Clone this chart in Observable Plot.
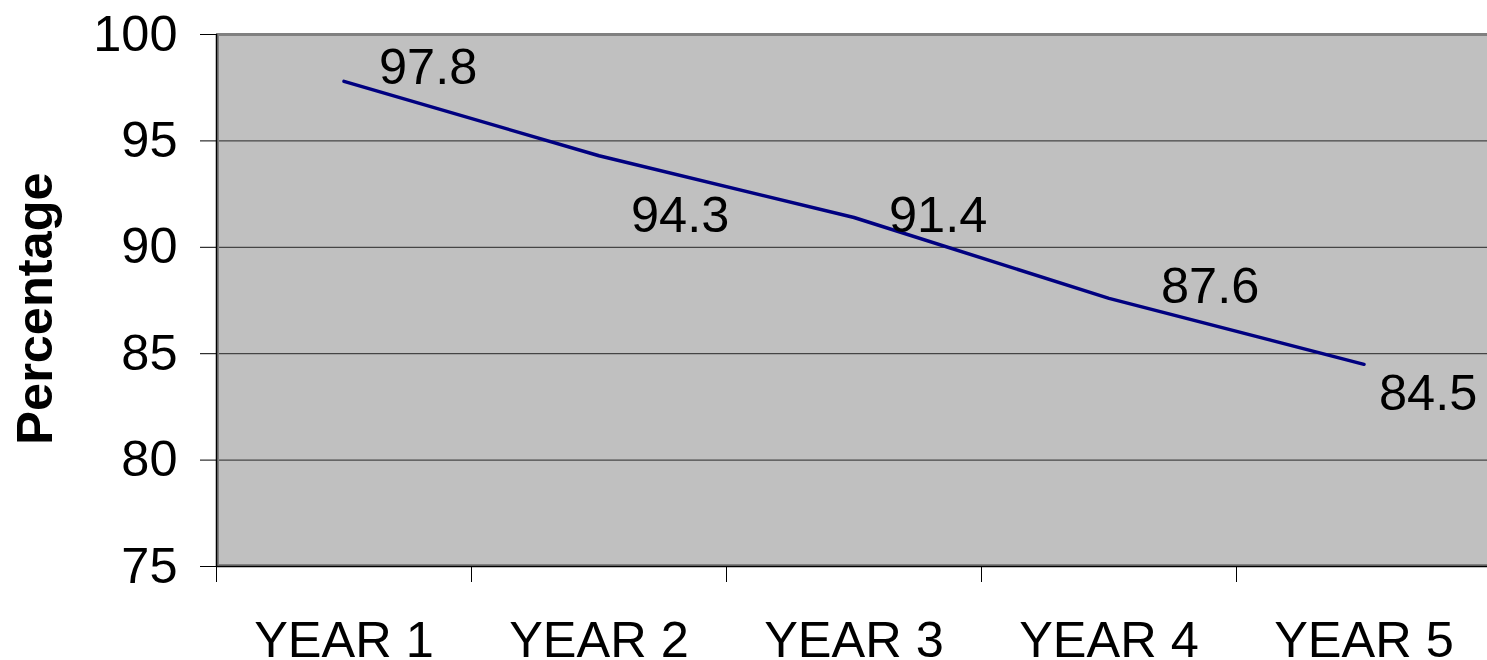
<!DOCTYPE html>
<html><head><meta charset="utf-8">
<script src="https://cdn.jsdelivr.net/npm/d3@7"></script>
<script src="https://cdn.jsdelivr.net/npm/@observablehq/plot@0.6"></script>
<style>html,body{margin:0;padding:0;background:#fff;overflow:hidden;} svg{display:block;}</style>
</head><body><div id="chart"></div>
<script>
const categories = ["YEAR 1", "YEAR 2", "YEAR 3", "YEAR 4", "YEAR 5"];
const values = [97.8, 94.3, 91.4, 87.6, 84.5];
const yTicks = [75, 80, 85, 90, 95, 100];
const yTitle = "Percentage";

const table = categories.map((c, i) => ({i, category: c, value: values[i]}));
const bandEdges = d3.range(categories.length + 1).map(k => k - 0.5);
const gridValues = yTicks.slice(1, -1);
// per-label nudges (screen pixels), mimicking the original label placement
const nudges = [[35, 3], [32, 76], [35, 14], [52, 5], [15, 46]];

const font = "'Liberation Sans', Arial, Helvetica, sans-serif";

const chart = Plot.plot({
  width: 1487,
  height: 660,
  marginLeft: 216,
  marginRight: 0,
  marginTop: 34,
  marginBottom: 94,
  style: {fontFamily: font, fontSize: "50.5px", color: "#000", background: "#fff"},
  x: {type: "linear", domain: [-0.5, categories.length - 0.5], range: [216, 1491]},
  y: {domain: [75, 100], range: [566, 34]},
  marks: [
    Plot.frame({fill: "#C0C0C0", stroke: "none"}),
    Plot.gridY(gridValues, {stroke: "#000", strokeOpacity: 0.8, strokeWidth: 1}),
    Plot.ruleY([100], {stroke: "#808080", strokeWidth: 3}),
    Plot.ruleX([categories.length - 0.5], {stroke: "#808080", strokeWidth: 3}),
    Plot.ruleX([-0.5], {stroke: "#808080", strokeWidth: 3, dx: 1}),
    Plot.ruleY([75], {stroke: "#808080", strokeWidth: 3, dy: -1}),
    Plot.ruleX([-0.5], {stroke: "#000", strokeWidth: 1.5}),
    Plot.ruleY([75], {stroke: "#000", strokeWidth: 1.5}),
    Plot.axisY(yTicks, {tickSize: 16, tickPadding: 23, label: null, stroke: "#000"}),
    Plot.axisX(bandEdges, {tickSize: 16, tickFormat: () => "", label: null, stroke: "#000"}),
    Plot.axisX(d3.range(categories.length), {tickSize: 0, tickPadding: 55, tickFormat: i => categories[i], label: null}),
    Plot.line(table, {x: "i", y: "value", stroke: "#000080", strokeWidth: 3.5}),
    ...table.map((d, k) => Plot.text([d], {
      x: "i", y: "value", text: t => t.value.toFixed(1),
      textAnchor: "start", lineAnchor: "bottom",
      dx: nudges[k][0], dy: nudges[k][1], fill: "#000"
    })),
    Plot.text([yTitle], {
      frameAnchor: "left", rotate: -90, lineAnchor: "bottom", textAnchor: "middle",
      dx: -165, dy: 8, fontWeight: "bold", fill: "#000"
    })
  ]
});
document.getElementById("chart").append(chart);
</script>
</body></html>
